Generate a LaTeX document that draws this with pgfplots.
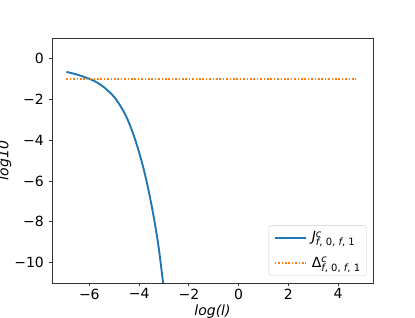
\documentclass[border=0pt]{standalone}
\usepackage{fontspec}
\setmainfont{DejaVu Sans}
\usepackage{pgfplots}
\pgfplotsset{compat=1.18}
\definecolor{mblue}{HTML}{1F77B4}
\definecolor{morange}{HTML}{FF7F0E}
\newcommand{\sml}{\fontsize{10bp}{10bp}\selectfont}
\newcommand{\lab}[1]{#1\rlap{\raisebox{0.62ex}{\sml\itshape c}}\raisebox{-0.5ex}{\sml\textit{f}, 0, \textit{f}, 1}}
\begin{document}
\fontsize{14bp}{16bp}\selectfont
\begin{tikzpicture}
\useasboundingbox (-52bp,-35bp) rectangle (363bp,283bp);
\begin{axis}[
  at={(0,0)}, anchor=south west,
  scale only axis, width=321bp, height=245bp,
  xmin=-7.5, xmax=5.4, ymin=-11, ymax=1,
  axis line style={draw=black!80, line width=0.8bp},
  tick style={draw=black!80, line width=0.8bp},
  tick align=outside, major tick length=3.3bp,
  xtick={-6,-4,-2,0,2,4}, xticklabels={−6,−4,−2,0,2,4},
  ytick={-10,-8,-6,-4,-2,0}, yticklabels={−10,−8,−6,−4,−2,0},
  xtick pos=bottom, ytick pos=left,
  ticklabel style={font=\fontsize{14bp}{16bp}\selectfont},
  xticklabel style={yshift=2.5bp},
  xlabel={\textit{log(l)}}, ylabel={\textit{log10}},
  xlabel style={at={(axis description cs:0.5,-0.118)}, anchor=center, font=\fontsize{14bp}{16bp}\selectfont},
  ylabel style={at={(axis description cs:-0.148,0.5)}, anchor=center, font=\fontsize{14bp}{16bp}\selectfont},
  legend style={at={(1,0)}, anchor=south east, xshift=-6.6bp, yshift=7.3bp,
     draw=black!20, rounded corners=2bp, fill=white, inner xsep=5bp, inner ysep=4bp,
     font=\fontsize{14bp}{16bp}\selectfont, row sep=9bp,
     nodes={inner xsep=1bp},
     /tikz/every odd column/.append style={column sep=4bp}},
  legend cell align=left,
  legend image code/.code={\draw[#1] (0bp,0bp) -- (31bp,0bp);},
]
\addplot[mblue, line width=1.9bp, smooth, tension=0.6] coordinates {
(-6.92,-0.66) (-6.5,-0.79) (-6.0,-1.00) (-5.75,-1.14) (-5.5,-1.33)
(-5.25,-1.58) (-5.0,-1.89) (-4.75,-2.33) (-4.5,-2.89) (-4.25,-3.65)
(-4.0,-4.60) (-3.75,-5.75) (-3.5,-7.19) (-3.25,-8.95) (-3.04,-10.95)
(-2.95,-11.9)
};
\addlegendentry{\lab{\textit{J}}}
\addplot[morange, line width=1.9bp, dash pattern=on 1.6bp off 1.8bp] coordinates {
(-6.92,-1) (4.72,-1)
};
\addlegendentry{\lab{Δ}}
\end{axis}
\end{tikzpicture}
\end{document}
